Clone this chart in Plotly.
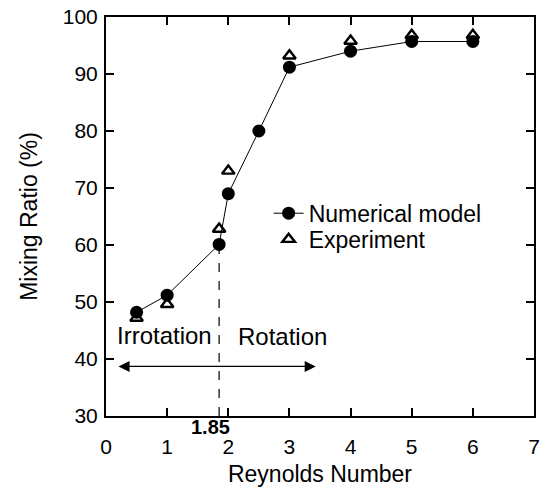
import plotly.graph_objects as go

# Data
num_x = [0.5, 1.0, 1.85, 2.0, 2.5, 3.0, 4.0, 5.0, 6.0]
num_y = [48.2, 51.2, 60.1, 69.0, 80.0, 91.2, 94.0, 95.7, 95.7]
exp_x = [0.5, 1.0, 1.85, 2.0, 3.0, 4.0, 5.0, 6.0]
exp_y = [47.2, 49.6, 62.8, 73.0, 93.2, 95.8, 96.8, 96.8]
x_ticks = [0, 1, 2, 3, 4, 5, 6, 7]
y_ticks = [30, 40, 50, 60, 70, 80, 90, 100]
critical_re = 1.85
critical_mix = 60.1
arrow_x = [0.18, 3.43]
arrow_y = 38.7

FONT = "Liberation Sans, Arial, sans-serif"

fig = go.Figure()
fig.add_trace(go.Scatter(
    x=exp_x, y=exp_y, mode="markers", name="Experiment",
    marker=dict(symbol="triangle-up-open", size=11, color="black",
                line=dict(width=2.4, color="black")),
    legend="legend2",
))
fig.add_trace(go.Scatter(
    x=num_x, y=num_y, mode="lines+markers", name="Numerical model",
    line=dict(color="black", width=1),
    marker=dict(symbol="circle", size=13, color="black"),
    legend="legend",
))

# dashed critical line
fig.add_shape(type="line", x0=critical_re, x1=critical_re, y0=30, y1=critical_mix,
              line=dict(color="black", width=1.2, dash="dash"), layer="below")

# double arrow
fig.add_annotation(x=arrow_x[1], y=arrow_y, ax=arrow_x[0], ay=arrow_y,
                   xref="x", yref="y", axref="x", ayref="y", text="",
                   showarrow=True, arrowhead=2, startarrowhead=2,
                   arrowside="end+start", arrowsize=1.7, startarrowsize=1.7,
                   arrowwidth=1.3, arrowcolor="black", standoff=0, startstandoff=0)

fig.add_annotation(x=0.95, y=44.1, text="Irrotation", showarrow=False,
                   font=dict(family=FONT, size=24, color="black"))
fig.add_annotation(x=2.89, y=44.0, text="Rotation", showarrow=False,
                   font=dict(family=FONT, size=24, color="black"))
fig.add_annotation(x=critical_re, y=30, text="<b>1.85</b>", showarrow=False,
                   yanchor="top", xanchor="center", xshift=-9, yshift=2,
                   font=dict(family=FONT, size=20, color="black"))

axis_common = dict(
    showgrid=False, zeroline=False, showline=True, linecolor="black", linewidth=2,
    mirror="ticks", ticks="inside", ticklen=8, tickwidth=1.5, tickcolor="black",
    tickfont=dict(family=FONT, size=21, color="black"),
)

fig.update_xaxes(range=[0, 7], tickvals=x_ticks, ticklabelstandoff=11,
                 title=dict(text="Reynolds Number", standoff=14,
                            font=dict(family=FONT, size=23, color="black")),
                 **axis_common)
fig.update_yaxes(range=[30, 100], tickvals=y_ticks, ticklabelstandoff=2,
                 title=dict(text="Mixing Ratio (%)", standoff=19,
                            font=dict(family=FONT, size=23, color="black")),
                 **axis_common)

legend_common = dict(xanchor="left", yanchor="top", bgcolor="rgba(0,0,0,0)",
                     borderwidth=0, font=dict(family=FONT, size=23, color="black"),
                     itemwidth=30)

fig.update_layout(
    width=544, height=487,
    margin=dict(l=106, r=10, t=17, b=71, autoexpand=False),
    plot_bgcolor="white", paper_bgcolor="white",
    showlegend=True,
    legend=dict(x=0.38, y=0.562, **legend_common),
    legend2=dict(x=0.38, y=0.497, **legend_common),
)

fig.write_html("out.html")
